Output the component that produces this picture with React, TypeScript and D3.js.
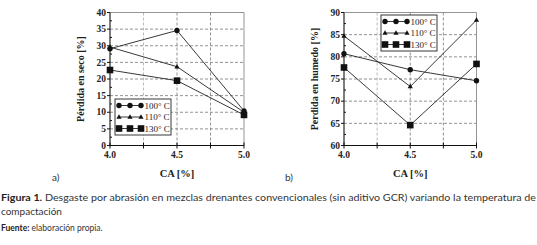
import React from "react";
import * as d3 from "d3";

// x categories (CA %)
const ca = [4.0, 4.5, 5.0];
const seriesNames = ["100° C", "110° C", "130° C"];
const markerTypes = ["circle", "triangle", "square"];

// a) perdida en seco
const secoValues = [
  [29.1, 34.6, 10.4],
  [29.6, 23.7, 10.0],
  [22.7, 19.5, 9.2],
];
const secoTicks = [0, 5, 10, 15, 20, 25, 30, 35, 40];

// b) perdida en humedo
const humedoValues = [
  [80.7, 77.1, 74.6],
  [84.7, 73.3, 88.3],
  [77.6, 64.6, 78.4],
];
const humedoTicks = [60, 65, 70, 75, 80, 85, 90];

const xTicks = [4.0, 4.5, 5.0];
const xGrid = [4.25, 4.5, 4.75];

const serif = "'Liberation Serif', 'DejaVu Serif', serif";
const sans = "Lato, 'Open Sans', sans-serif";

const Marker = ({ type, x, y }: { type: string; x: number; y: number }) => {
  if (type === "circle") return <circle cx={x} cy={y} r={2.7} fill="#111" />;
  if (type === "triangle")
    return (
      <path
        d={`M${x},${y - 2.8}L${x + 2.6},${y + 1.8}L${x - 2.6},${y + 1.8}Z`}
        fill="#111"
      />
    );
  return <rect x={x - 3.3} y={y - 3.3} width={6.6} height={6.6} fill="#111" />;
};

interface PanelProps {
  left: number;
  right: number;
  values: number[][];
  yTicks: number[];
  yLabel: string;
  yLabelX: number;
  legendX: number;
  legendY: number;
}

const Panel = ({ left, right, values, yTicks, yLabel, yLabelX, legendX, legendY }: PanelProps) => {
  const top = 12.5,
    bottom = 145.5;
  const x = d3.scaleLinear().domain([4.0, 5.0]).range([left, right]);
  const y = d3
    .scaleLinear()
    .domain([yTicks[0], yTicks[yTicks.length - 1]])
    .range([bottom, top]);
  const step = yTicks[1] - yTicks[0];
  const line = d3
    .line<number>()
    .x((_, i) => x(ca[i]))
    .y((d) => y(d));

  return (
    <g>
      {/* grid */}
      {yTicks.slice(1, -1).map((t) => (
        <line key={"gy" + t} x1={left} x2={right} y1={y(t)} y2={y(t)}
          stroke="#777" strokeWidth={0.8} strokeDasharray="3,2" />
      ))}
      {xGrid.map((t) => (
        <line key={"gx" + t} x1={x(t)} x2={x(t)} y1={top} y2={bottom}
          stroke={t === 4.25 ? "#aaa" : "#777"} strokeWidth={0.8} strokeDasharray="3,2" />
      ))}
      {/* frame */}
      <line x1={left} x2={right} y1={top} y2={top} stroke="#888" strokeWidth={0.9} />
      <line x1={right} x2={right} y1={top} y2={bottom} stroke="#888" strokeWidth={0.9} />
      <line x1={left} x2={left} y1={top} y2={bottom} stroke="#111" strokeWidth={1.1} />
      <line x1={left} x2={right} y1={bottom} y2={bottom} stroke="#111" strokeWidth={1.1} />
      {/* y ticks */}
      {yTicks.map((t) => (
        <g key={"yt" + t}>
          <line x1={left - 3} x2={left} y1={y(t)} y2={y(t)} stroke="#111" />
          <text x={left - 4} y={y(t) + 3.2} textAnchor="end" fontFamily={serif}
            fontWeight="bold" fontSize={9.5} fill="#222">{t}</text>
        </g>
      ))}
      {yTicks.slice(0, -1).map((t) => (
        <line key={"ym" + t} x1={left} x2={left + 2} y1={y(t + step / 2)} y2={y(t + step / 2)} stroke="#111" />
      ))}
      {/* x ticks */}
      {[4.0, 4.25, 4.5, 4.75, 5.0].map((t) => (
        <line key={"xt" + t} x1={x(t)} x2={x(t)} y1={bottom - 3} y2={bottom + 3} stroke="#111" />
      ))}
      {xTicks.map((t) => (
        <text key={"xl" + t} x={x(t)} y={158} textAnchor="middle" fontFamily={serif}
          fontWeight="bold" fontSize={9.5} fill="#222">{t.toFixed(1)}</text>
      ))}
      <text x={(left + right) / 2} y={177} textAnchor="middle" fontFamily={serif}
        fontWeight="bold" fontSize={10.5} fill="#222">CA [%]</text>
      <text transform={`translate(${yLabelX},${(top + bottom) / 2}) rotate(-90)`} textAnchor="middle"
        fontFamily={serif} fontWeight="bold" fontSize={10} fill="#222">{yLabel}</text>
      {/* series */}
      {values.map((vals, s) => (
        <g key={"s" + s}>
          <path d={line(vals) || ""} fill="none" stroke="#222" strokeWidth={0.9} />
          {vals.map((v, i) => (
            <Marker key={i} type={markerTypes[s]} x={x(ca[i])} y={y(v)} />
          ))}
        </g>
      ))}
      {/* legend */}
      <rect x={legendX} y={legendY} width={56} height={36} fill="#fff" stroke="#222" strokeWidth={0.9} />
      {seriesNames.map((n, s) => {
        const ly = legendY + 6.5 + s * 11.5;
        return (
          <g key={"lg" + s}>
            <line x1={legendX + 4} x2={legendX + 26} y1={ly} y2={ly} stroke="#222" strokeWidth={0.9} />
            {[0, 11, 22].map((o) => (
              <Marker key={o} type={markerTypes[s]} x={legendX + 4 + o} y={ly} />
            ))}
            <text x={legendX + 29.5} y={ly + 3.2} fontFamily={serif} fontSize={9} fill="#222">{n}</text>
          </g>
        );
      })}
    </g>
  );
};

const App = () => {
  return (
    <svg width={537} height={245} style={{ position: "absolute", left: 0, top: 0, background: "#fff" }}>
      <Panel left={110} right={244} values={secoValues} yTicks={secoTicks}
        yLabel="Pérdida en seco [%]" yLabelX={84} legendX={115} legendY={99} />
      <Panel left={344} right={476.5} values={humedoValues} yTicks={humedoTicks}
        yLabel="Perdida en humedo [%]" yLabelX={318} legendX={381} legendY={15} />
      <text x={52} y={181} fontFamily={sans} fontSize={10} fill="#333">a)</text>
      <text x={285} y={181} fontFamily={sans} fontSize={10} fill="#333">b)</text>
      <text x={1} y={201} fontFamily={sans} fontSize={10} fill="#333" textLength={535} lengthAdjust="spacingAndGlyphs">
        <tspan fontWeight="bold" fill="#222">Figura 1.</tspan> Desgaste por abrasión en mezclas drenantes convencionales (sin aditivo GCR) variando la temperatura de
      </text>
      <text x={1} y={215} fontFamily={sans} fontSize={10} fill="#333">compactación</text>
      <text x={1} y={231} fontFamily={sans} fontSize={8.5} fill="#333">
        <tspan fontWeight="bold" fill="#222">Fuente:</tspan> elaboración propia.
      </text>
    </svg>
  );
};

export default App;
